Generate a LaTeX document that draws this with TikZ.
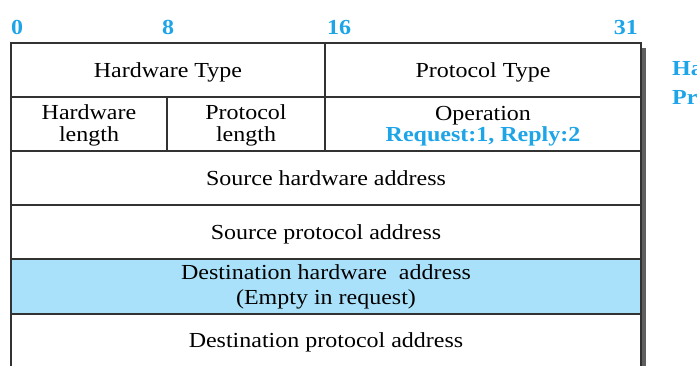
\documentclass[tikz,border=0pt]{standalone}
\usepackage{fontspec}
\setmainfont{Liberation Serif}[FakeStretch=1.12]
\definecolor{numblue}{RGB}{30,165,232}
\definecolor{cellblue}{RGB}{170,225,250}
\definecolor{rulegray}{RGB}{50,50,50}
\definecolor{shadowgray}{RGB}{95,95,95}
\begin{document}
\begin{tikzpicture}[x=1bp,y=-1bp,
  cell/.style={draw=rulegray,line width=1.6bp,fill=white,inner sep=0,outer sep=0,anchor=north west,minimum height=54bp},
  lbl/.style={inner sep=0,anchor=base,font=\fontsize{21.5}{22}\selectfont},
  num/.style={inner sep=0,anchor=base,text=numblue,font=\bfseries\fontsize{21.5}{22}\selectfont}]
\useasboundingbox (0,0) rectangle (697,365);
\clip (0,0) rectangle (697,365);
% shadow
\fill[shadowgray] (641,48) rectangle (645.5,370);
% cells
\node[cell,minimum width=314bp] (ht) at (11,43) {};
\node[cell,minimum width=316bp] (pt) at (325,43) {};
\node[cell,minimum width=156bp] (hl) at (11,97) {};
\node[cell,minimum width=158bp] (pl) at (167,97) {};
\node[cell,minimum width=316bp] (op) at (325,97) {};
\node[cell,minimum width=630bp] (sha) at (11,151) {};
\node[cell,minimum width=630bp] (spa) at (11,205) {};
\node[cell,minimum width=630bp,minimum height=55bp,fill=cellblue] (dha) at (11,259) {};
\node[cell,minimum width=630bp,minimum height=70bp] (dpa) at (11,314) {};
% bit numbers
\coordinate (c8) at (hl.north east |- ht.north);
\node[num,anchor=base west] (n0) at ([yshift=9bp]ht.north west) {0};
\node[num] (n8) at ([xshift=1bp,yshift=9bp]c8) {8};
\node[num,anchor=base west] (n16) at ([xshift=2bp,yshift=9bp]pt.north west) {16};
\node[num,anchor=base east] (n31) at ([xshift=-3bp,yshift=9bp]pt.north east) {31};
% labels
\node[lbl] (tht) at ([yshift=-7bp]ht.center) {Hardware Type};
\node[lbl] (tpt) at ([yshift=-7bp]pt.center) {Protocol Type};
\node[lbl] (thl1) at ([yshift=5bp]hl.center) {Hardware};
\node[lbl] (thl2) at ([yshift=-17bp]hl.center) {length};
\node[lbl] (tpl1) at ([yshift=5bp]pl.center) {Protocol};
\node[lbl] (tpl2) at ([yshift=-17bp]pl.center) {length};
\node[lbl] (top1) at ([yshift=4bp]op.center) {Operation};
\node[num] (top2) at ([yshift=-17bp]op.center) {Request:1, Reply:2};
\node[lbl] (tsha) at ([yshift=-7bp]sha.center) {Source hardware address};
\node[lbl] (tspa) at ([yshift=-7bp]spa.center) {Source protocol address};
\node[lbl] (tdha1) at ([yshift=7bp]dha.center) {Destination hardware\ \ address};
\node[lbl] (tdha2) at ([yshift=-18bp]dha.center) {(Empty in request)};
\node[lbl] (tdpa) at ([yshift=-33bp]dpa.north) {Destination protocol address};
% side notes (cut off at the right edge)
\node[num,anchor=base west] (hwnote) at (672,75) {Hardware: LAN or WAN protocol};
\node[num,anchor=base west] (prnote) at (672,104) {Protocol: Network-layer protocol};
\end{tikzpicture}
\end{document}
